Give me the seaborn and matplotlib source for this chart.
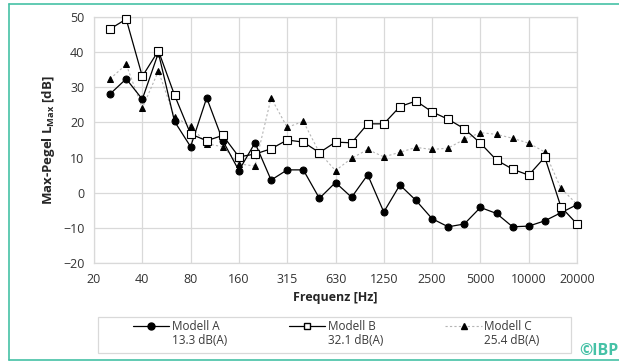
import numpy as np
import pandas as pd
import seaborn as sns
import matplotlib.pyplot as plt
from matplotlib.lines import Line2D
from matplotlib.patches import Rectangle

# third-octave bands (Hz)
bands = ["25", "31.5", "40", "50", "63", "80", "100", "125", "160", "200",
         "250", "315", "400", "500", "630", "800", "1000", "1250", "1600", "2000",
         "2500", "3150", "4000", "5000", "6300", "8000", "10000", "12500", "16000", "20000"]

modell_a = [28.1, 32.4, 26.6, 39.8, 20.3, 13.1, 27.0, 14.8, 6.3, 14.2,
            3.6, 6.5, 6.5, -1.6, 2.9, -1.3, 5.1, -5.5, 2.2, -2.2,
            -7.4, -9.7, -8.9, -4.2, -5.9, -9.7, -9.5, -8.0, -5.7, -3.4]
modell_b = [46.6, 49.4, 33.1, 40.4, 27.8, 16.7, 14.8, 16.3, 10.2, 11.0,
            12.5, 15.0, 14.4, 11.4, 14.4, 14.2, 19.6, 19.6, 24.5, 26.1,
            23.0, 20.9, 18.2, 14.1, 9.3, 6.7, 5.0, 10.1, -4.0, -8.9]
modell_c = [32.4, 36.5, 24.1, 34.6, 21.5, 19.0, 13.9, 13.1, 8.2, 7.6,
            27.0, 18.6, 20.3, 11.4, 6.3, 9.8, 12.3, 10.2, 11.5, 12.9,
            12.3, 12.7, 15.2, 17.1, 16.6, 15.5, 14.1, 11.6, 1.3, -3.3]

tick_labels = ["20", "40", "80", "160", "315", "630", "1250", "2500", "5000", "10000", "20000"]
model_names = ["Modell A", "Modell B", "Modell C"]
model_levels = ["13.3 dB(A)", "32.1 dB(A)", "25.4 dB(A)"]

teal = "#45c1a6"
grid_c = "#d9d9d9"
text_c = "#3a3a3a"

sns.set_style("white")
plt.rcParams["font.family"] = ["Open Sans", "DejaVu Sans"]

df = pd.DataFrame({"pos": np.arange(1, len(bands) + 1),
                   "A": modell_a, "B": modell_b, "C": modell_c})

fig = plt.figure(figsize=(6.19, 3.61), dpi=100)
ax = fig.add_axes([94 / 619, 1 - 263 / 361, (577 - 94) / 619, (263 - 17) / 361])

sns.lineplot(data=df, x="pos", y="A", ax=ax, color="black", lw=0.9,
             marker="o", markersize=5, markerfacecolor="black",
             markeredgecolor="black", zorder=3, clip_on=False)
sns.lineplot(data=df, x="pos", y="B", ax=ax, color="black", lw=0.9,
             marker="s", markersize=5.5, markerfacecolor="white",
             markeredgecolor="black", markeredgewidth=0.8, zorder=4, clip_on=False)
sns.lineplot(data=df, x="pos", y="C", ax=ax, color="#b5b5b5", lw=0.8,
             linestyle=(0, (2, 2)), marker="^", markersize=5,
             markerfacecolor="black", markeredgecolor="black", zorder=2, clip_on=False)

ax.set_xlim(0, len(bands))
ax.set_ylim(-20, 50)
ax.set_xticks(np.arange(0, len(bands) + 1, 3))
ax.set_xticklabels(tick_labels)
ax.set_yticks(np.arange(-20, 51, 10))
ax.grid(True, color=grid_c, lw=0.9)
for s in ax.spines.values():
    s.set_color(grid_c)
    s.set_linewidth(0.9)
ax.tick_params(axis="both", length=4, color=grid_c, labelsize=9,
               labelcolor="#333333", pad=3)
ax.set_xlabel("Frequenz [Hz]", fontsize=9, fontweight="bold", labelpad=4)
ax.set_ylabel("Max-Pegel L$_{\\mathregular{Max}}$ [dB]", fontsize=9.5,
              fontweight="bold", labelpad=4)

handles = [
    Line2D([], [], color="black", lw=0.9, marker="o", markersize=5,
           markerfacecolor="black", markeredgecolor="black"),
    Line2D([], [], color="black", lw=0.9, marker="s", markersize=5,
           markerfacecolor="white", markeredgecolor="black"),
    Line2D([], [], color="#b5b5b5", lw=0.8, linestyle=(0, (2, 2)), marker="^",
           markersize=5, markerfacecolor="black", markeredgecolor="black"),
]
leg = fig.legend(handles, model_names, ncol=3, loc="center left",
                 bbox_to_anchor=(122 / 619, 1 - 327 / 361),
                 fontsize=8.5, frameon=False,
                 handlelength=3.1, handletextpad=0.2, columnspacing=5.9)
for t in leg.get_texts():
    t.set_color(text_c)

# second legend line (A-weighted level) under each model name
fig.canvas.draw()
inv = fig.transFigure.inverted()
for t, lvl in zip(leg.get_texts(), model_levels):
    bb = t.get_window_extent()
    x0, y0 = inv.transform((bb.x0, bb.y0))
    fig.text(x0, y0 - 1 / 361, lvl, fontsize=8.5, color=text_c,
             ha="left", va="top")

# legend box
fig.add_artist(Rectangle((98 / 619, 1 - 353 / 361), (571 - 98) / 619, 36 / 361,
                         transform=fig.transFigure, fill=False,
                         edgecolor=grid_c, lw=0.9))

# teal frame
fig.add_artist(Line2D([9 / 619, 9 / 619], [1 - 360 / 361, 1 - 4 / 361],
                      color=teal, lw=1.2, transform=fig.transFigure))
fig.add_artist(Line2D([9 / 619, 1], [1 - 4 / 361, 1 - 4 / 361],
                      color=teal, lw=1.2, transform=fig.transFigure))
fig.add_artist(Line2D([9 / 619, 1], [1 - 360 / 361, 1 - 360 / 361],
                      color=teal, lw=1.2, transform=fig.transFigure))
fig.text(1.0, 1 - 351 / 361, "©IBP", color=teal, fontsize=11.5, fontweight="bold",
         ha="right", va="center")

fig.savefig("out.png", dpi=100)
